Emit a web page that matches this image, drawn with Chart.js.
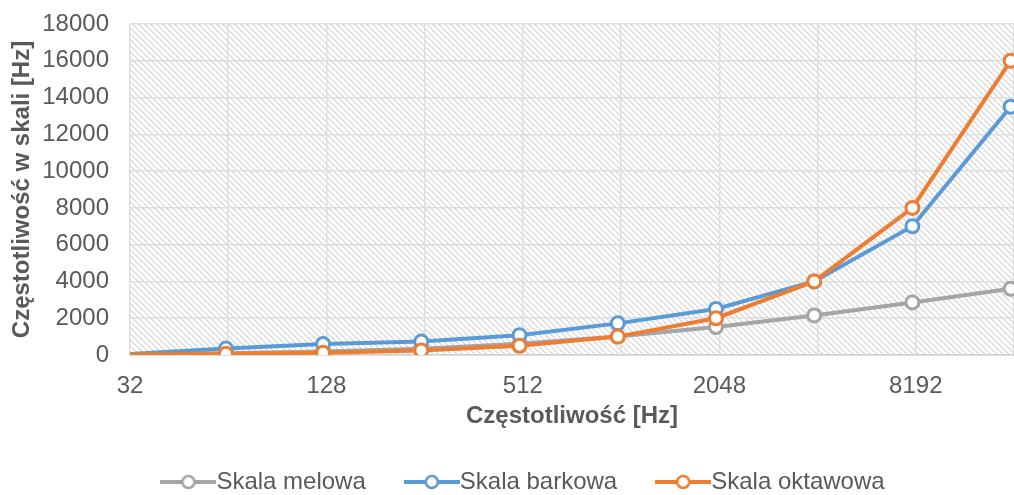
<!DOCTYPE html>
<html>
<head>
<meta charset="utf-8">
<script src="https://cdn.jsdelivr.net/npm/chart.js@4/dist/chart.umd.min.js"></script>
<style>
  html, body { margin: 0; padding: 0; background: #fff; overflow: hidden; }
  #wrap { width: 1014px; height: 495px; position: relative; }
  #scaleChart { display: block; }
</style>
</head>
<body>
<div id="wrap"><canvas id="scaleChart"></canvas></div>
<script>
// Octave band centre frequencies [Hz]
const frequencies = [31.5, 63, 125, 250, 500, 1000, 2000, 4000, 8000, 16000];
const melowa = [50, 100, 185, 345, 610, 1000, 1520, 2150, 2860, 3600];
const barkowa = [50, 350, 600, 730, 1080, 1720, 2500, 4000, 7000, 13500];
const oktawowa = [31.5, 63, 125, 250, 500, 1000, 2000, 4000, 8000, 16000];

const xGridValues = [32, 64, 128, 256, 512, 1024, 2048, 4096, 8192, 16384];
const xTickLabels = [32, 128, 512, 2048, 8192];

const textColor = '#595959';
const fontFamily = '"Liberation Sans", Arial, sans-serif';

function toPoints(ys) {
    return frequencies.map((f, i) => ({ x: f, y: ys[i] }));
}

// line + circle icon used in the legend
function legendIcon(color) {
    const c = document.createElement('canvas');
    c.width = 56;
    c.height = 18;
    const g = c.getContext('2d');
    g.strokeStyle = color;
    g.lineWidth = 4;
    g.beginPath();
    g.moveTo(0, 9);
    g.lineTo(56, 9);
    g.stroke();
    g.fillStyle = '#fff';
    g.lineWidth = 2.5;
    g.beginPath();
    g.arc(28, 9, 6, 0, Math.PI * 2);
    g.fill();
    g.stroke();
    return c;
}

// diagonal hatch behind the plot area
function hatchPattern(ctx) {
    const tile = document.createElement('canvas');
    tile.width = 6;
    tile.height = 6;
    const t = tile.getContext('2d');
    t.fillStyle = '#fff';
    t.fillRect(0, 0, 6, 6);
    t.fillStyle = '#dedede';
    for (let y = 0; y < 6; y++) {
        t.fillRect(y % 6, y, 1, 1);
        t.fillRect((y + 1) % 6, y, 1, 1);
    }
    return ctx.createPattern(tile, 'repeat');
}

const hatchPlugin = {
    id: 'hatch',
    beforeDraw(chart) {
        const { ctx, chartArea: a } = chart;
        ctx.save();
        ctx.fillStyle = hatchPattern(ctx);
        ctx.fillRect(a.left, a.top, a.right - a.left, a.bottom - a.top);
        ctx.restore();
    }
};

// nudge the legend row a little to the right
const legendShift = {
    id: 'legendShift',
    afterLayout(chart) {
        chart.legend.left += 19;
        chart.legend.right += 19;
    }
};

function series(label, ys, color, order) {
    return {
        label: label,
        data: toPoints(ys),
        borderColor: color,
        backgroundColor: color,
        borderWidth: 4,
        // the 31.5 Hz point lies left of the axis minimum, so only its line shows
        pointRadius: (c) => c.raw && c.raw.x < 32 ? 0 : 6.5,
        pointBorderWidth: 3,
        pointBackgroundColor: '#fff',
        pointBorderColor: color,
        pointStyle: 'circle',
        tension: 0,
        clip: 0,
        order: order
    };
}

const ctx = document.getElementById('scaleChart').getContext('2d');
new Chart(ctx, {
    type: 'line',
    data: {
        datasets: [
            series('Skala melowa', melowa, '#a5a5a5', 3),
            series('Skala barkowa', barkowa, '#5b9bd5', 2),
            series('Skala oktawowa', oktawowa, '#ed7d31', 1)
        ]
    },
    options: {
        responsive: true,
        maintainAspectRatio: false,
        animation: false,
        layout: {
            autoPadding: false,
            // plot runs slightly past the right edge of the canvas
            padding: { top: 24, right: -5, bottom: -9, left: 0 }
        },
        scales: {
            x: {
                type: 'logarithmic',
                min: 32,
                max: 16384,
                afterBuildTicks(scale) {
                    scale.ticks = xGridValues.map(v => ({ value: v }));
                },
                afterFit(scale) {
                    scale.height = 65;
                    scale.paddingLeft = 0;
                    scale.paddingRight = 0;
                },
                grid: { color: '#dedede', lineWidth: 1.5, drawTicks: false },
                border: { color: '#d0d0d0', width: 1.5 },
                ticks: {
                    autoSkip: false,
                    maxRotation: 0,
                    padding: 17,
                    color: textColor,
                    font: { family: fontFamily, size: 24 },
                    callback: (v) => xTickLabels.includes(v) ? String(v) : ''
                },
                title: {
                    display: true,
                    text: 'Częstotliwość [Hz]',
                    color: textColor,
                    font: { family: fontFamily, size: 24, weight: 'bold' },
                    padding: { top: 0, bottom: -11 }
                }
            },
            y: {
                min: 0,
                max: 18000,
                afterFit(scale) {
                    scale.width = 130;
                    scale.paddingTop = 0;
                    scale.paddingBottom = 0;
                },
                grid: { color: '#dedede', lineWidth: 1.5, drawTicks: false },
                border: { display: false },
                ticks: {
                    stepSize: 2000,
                    padding: 21,
                    color: textColor,
                    font: { family: fontFamily, size: 24 },
                    callback: (v) => String(v)
                },
                title: {
                    display: true,
                    text: 'Częstotliwość w skali [Hz]',
                    color: textColor,
                    font: { family: fontFamily, size: 24, weight: 'bold' },
                    padding: { top: 8, bottom: 0 }
                }
            }
        },
        plugins: {
            tooltip: { enabled: false },
            legend: {
                position: 'bottom',
                labels: {
                    usePointStyle: true,
                    pointStyleWidth: 32,
                    padding: 50,
                    color: textColor,
                    font: { family: fontFamily, size: 24 },
                    generateLabels(chart) {
                        return chart.data.datasets.map((ds, i) => ({
                            text: ds.label,
                            pointStyle: legendIcon(ds.borderColor),
                            fontColor: textColor,
                            lineWidth: 0,
                            strokeStyle: 'transparent',
                            fillStyle: 'transparent',
                            hidden: false,
                            datasetIndex: i
                        }));
                    }
                }
            }
        }
    },
    plugins: [hatchPlugin, legendShift]
});
</script>
</body>
</html>
